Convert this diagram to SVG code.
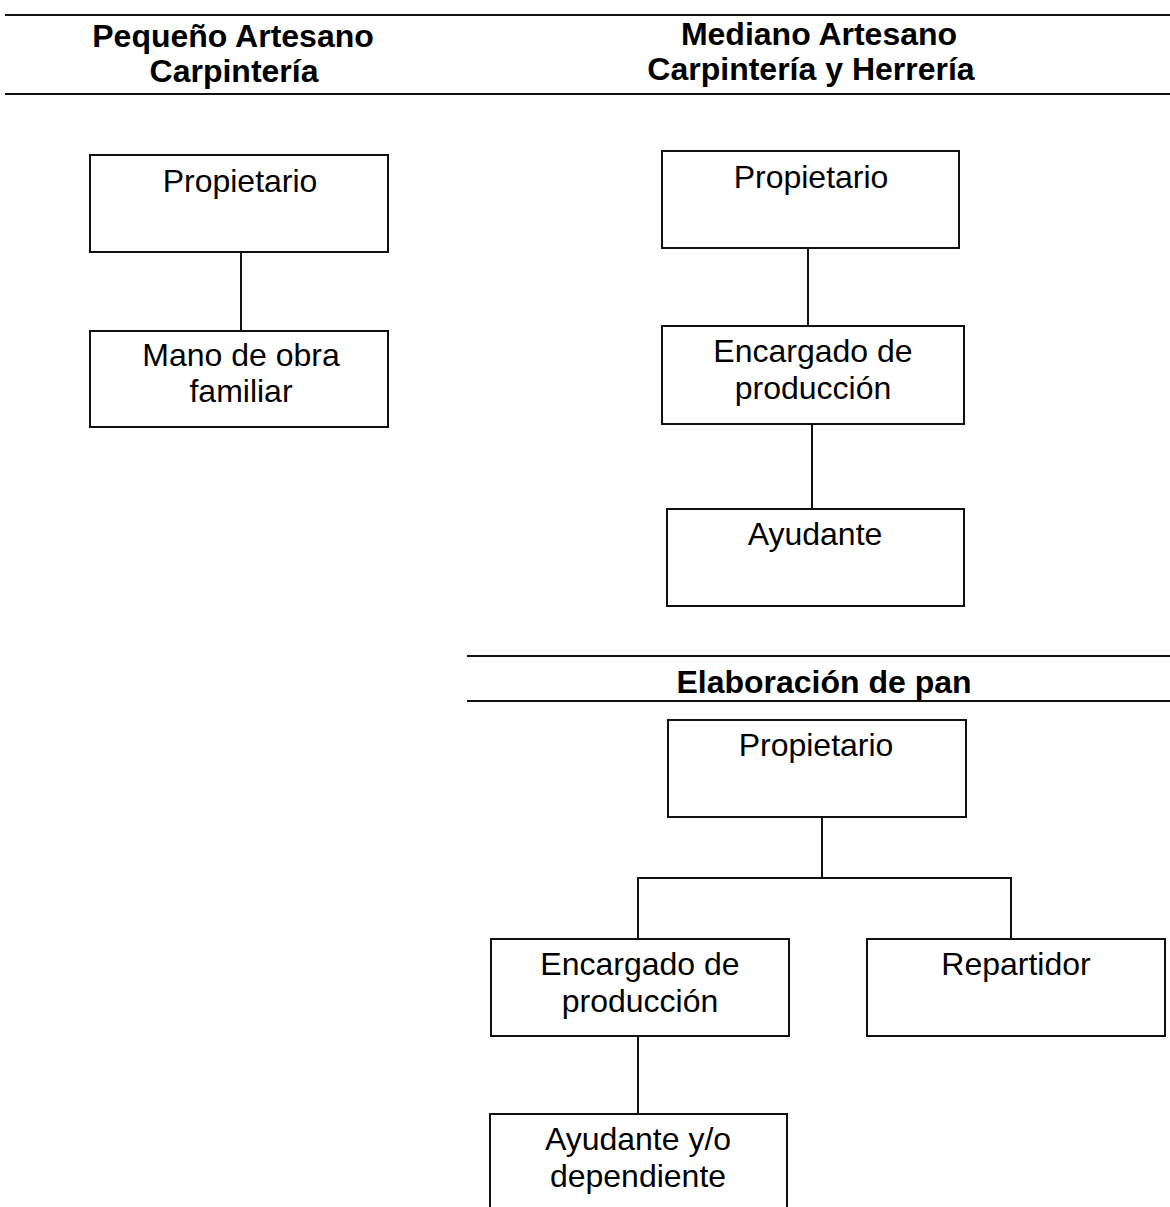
<svg xmlns="http://www.w3.org/2000/svg" width="1170" height="1207" viewBox="0 0 1170 1207">
<style>
.bg{fill:#fff}
.box{fill:#fff;stroke:#111;stroke-width:2}
.rule{stroke:#111;stroke-width:2;fill:none}
.conn{stroke:#111;stroke-width:2;fill:none}
.h{font-family:"Liberation Sans",Arial,sans-serif;font-weight:bold;font-size:32px;fill:#000;text-anchor:middle}
.t{font-family:"Liberation Sans",Arial,sans-serif;font-size:32px;fill:#000;text-anchor:middle}
</style>
<rect class="bg" x="0" y="0" width="1170" height="1207"/>
<g id="headers">
<line class="rule" x1="5" y1="15" x2="1170" y2="15"/>
<line class="rule" x1="5" y1="94" x2="1170" y2="94"/>
<text class="h" x="233" y="47">Pequeño Artesano</text>
<text class="h" x="234" y="82">Carpintería</text>
<text class="h" x="819" y="45">Mediano Artesano</text>
<text class="h" x="811" y="80">Carpintería y Herrería</text>
<line class="rule" x1="467" y1="656" x2="1170" y2="656"/>
<line class="rule" x1="467" y1="701" x2="1170" y2="701"/>
<text class="h" x="824" y="693">Elaboración de pan</text>
</g>
<g id="connectors">
<line class="conn" x1="241" y1="252" x2="241" y2="331"/>
<line class="conn" x1="808" y1="248" x2="808" y2="326"/>
<line class="conn" x1="812" y1="424" x2="812" y2="509"/>
<polyline class="conn" points="822,817 822,878"/>
<polyline class="conn" points="638,939 638,878 1011,878 1011,939"/>
<line class="conn" x1="638" y1="1036" x2="638" y2="1114"/>
</g>
<g id="a1"><rect class="box" x="90" y="155" width="298" height="97"/><text class="t" x="240" y="192">Propietario</text></g>
<g id="a2"><rect class="box" x="90" y="331" width="298" height="96"/><text class="t" x="241" y="366">Mano de obra</text><text class="t" x="241" y="402">familiar</text></g>
<g id="b1"><rect class="box" x="662" y="151" width="297" height="97"/><text class="t" x="811" y="188">Propietario</text></g>
<g id="b2"><rect class="box" x="662" y="326" width="302" height="98"/><text class="t" x="813" y="362">Encargado de</text><text class="t" x="813" y="399">producción</text></g>
<g id="b3"><rect class="box" x="667" y="509" width="297" height="97"/><text class="t" x="815" y="545">Ayudante</text></g>
<g id="c1"><rect class="box" x="668" y="720" width="298" height="97"/><text class="t" x="816" y="756">Propietario</text></g>
<g id="c2"><rect class="box" x="491" y="939" width="298" height="97"/><text class="t" x="640" y="975">Encargado de</text><text class="t" x="640" y="1012">producción</text></g>
<g id="c3"><rect class="box" x="867" y="939" width="298" height="97"/><text class="t" x="1016" y="975">Repartidor</text></g>
<g id="c4"><rect class="box" x="490" y="1114" width="297" height="110"/><text class="t" x="638" y="1150">Ayudante y/o</text><text class="t" x="638" y="1187">dependiente</text></g>
</svg>
